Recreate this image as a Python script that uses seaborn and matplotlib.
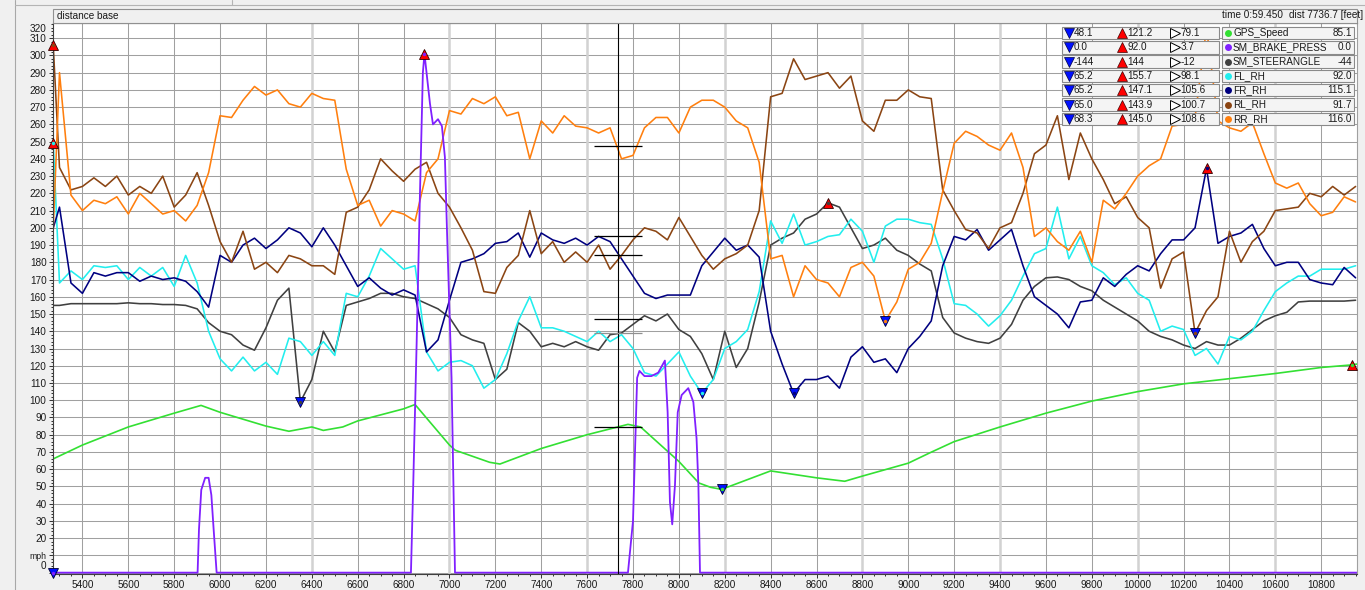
import numpy as np
import pandas as pd
import matplotlib
matplotlib.use("Agg")
import matplotlib.pyplot as plt
import seaborn as sns
from matplotlib import font_manager
from matplotlib.patches import Rectangle
from matplotlib.ticker import MultipleLocator

# ------------------------
# DATA (display units)
# ------------------------

# shared distance grid for the ride height / steering channels [feet]
dist = np.r_[5273, np.arange(5300, 10951, 50)]

steer = [
    155, 155, 156, 156, 156, 156, 156, 156.5, 156, 156,
    155.5, 155.5, 155, 153, 145, 140, 138, 132, 129, 142,
    158, 165, 99, 112, 140, 128, 155, 157, 159, 162,
    162, 160, 159, 156, 153, 148, 138, 135, 133, 112,
    118, 145, 140, 131, 133, 131, 134, 131, 129, 138,
    139, 144, 149, 146, 150, 141, 137, 127, 112, 140,
    119, 130, 157, 190, 194, 197, 205, 208, 214.5, 212,
    200, 188, 190, 194, 187, 184, 179, 175, 148, 139,
    136, 134, 133, 136, 144, 158, 166, 171, 171.5, 170,
    166, 163.5, 158, 154, 150, 146, 140, 137, 135, 132,
    130, 134, 132, 132, 136, 141, 146, 149, 151, 157,
    157.5, 157.5, 157.5, 157.5, 158,
]

fl_rh = [
    249, 168, 175, 170, 178, 177, 178, 170, 177, 172,
    177, 166, 184, 168, 140, 124, 117, 125, 117, 122,
    115, 136, 134, 126, 134, 126, 162, 160, 172, 188,
    182, 176, 178, 128, 117, 122, 123, 120, 107, 112,
    127, 146, 160, 142, 142, 140, 137, 134, 140, 134,
    138, 130, 116, 114, 121, 128, 114, 104, 112, 130,
    134, 141, 163, 204, 191, 208, 190, 192, 195, 196,
    205, 198, 180, 201, 205, 205, 203, 202, 182, 156,
    155, 150, 143, 149, 158, 172, 185, 188, 212, 182,
    195, 178, 174, 167, 171, 162, 158, 140, 143, 141,
    126, 130, 121, 137, 135, 140, 152, 163, 168, 172,
    172, 176, 176, 176, 178,
]

fr_rh = [
    200, 212, 168, 162, 174, 172, 174, 174, 169, 172,
    170, 171, 169, 163, 154, 184, 180, 190, 194, 188,
    193, 200, 197, 189, 200, 190, 178, 166, 171, 165,
    161, 164, 161, 128, 135, 158, 180, 182, 185, 191,
    192, 197, 183, 197, 193, 191, 194, 190, 195, 192,
    182, 172, 162, 159, 161, 161, 161, 178, 186, 194,
    187, 190, 183, 140, 121, 104, 112, 112, 114, 107,
    125, 131, 122, 124, 116, 130, 137, 146, 178, 195,
    193, 199, 187, 193, 199, 178, 160, 155, 150, 142,
    157, 158, 171, 166, 173, 178, 175, 185, 193, 193,
    200, 234.5, 191, 195, 197, 202, 188, 178, 180, 180,
    170, 168, 167, 177, 171,
]

rl_rh = [
    305, 235, 222, 224, 229, 224, 230, 219, 224, 220,
    230, 212, 219, 232, 213, 192, 180, 198, 176, 180,
    174, 184, 182, 178, 178, 173, 209, 212, 222, 240,
    233, 227, 234, 238, 220, 212, 200, 187, 163, 162,
    177, 184, 210, 185, 192, 180, 186, 180, 190, 176,
    184, 193, 200, 198, 193, 206, 195, 184, 176, 182,
    185, 190, 210, 276, 278, 298, 286, 288, 290, 281,
    288, 262, 256, 274, 274, 280, 276, 275, 222, 210,
    199, 197, 188, 200, 203, 220, 243, 248, 265, 228,
    255, 240, 228, 214, 218, 206, 200, 165, 182, 186,
    139, 152, 160, 198, 180, 192, 198, 210, 211, 212,
    220, 218, 224, 219, 224,
]

rr_rh = [
    200, 290, 219, 210, 216, 214, 218, 208, 220, 214,
    208, 210, 204, 213, 232, 265, 264, 274, 282, 277,
    280, 272, 270, 278, 275, 274, 234, 213, 216, 201,
    210, 208, 204, 232, 240, 268, 266, 275, 272, 276,
    265, 267, 240, 262, 255, 265, 259, 258, 255, 258,
    240, 242, 258, 264, 264, 255, 270, 274, 274, 270,
    262, 258, 238, 182, 184, 160, 178, 170, 168, 160,
    177, 180, 172, 146, 157, 176, 180, 191, 221, 249,
    256, 253, 248, 245, 255, 235, 195, 200, 192, 187,
    198, 180, 216, 211, 220, 230, 236, 240, 259, 260,
    264, 316, 262, 258, 256, 261, 243, 226, 223, 226,
    214, 207, 209, 218, 215,
]

speed_dist = [5273, 5400, 5600, 5800, 5917, 6000, 6200, 6300, 6400, 6450,
              6535, 6600, 6800, 6850, 7000, 7025, 7175, 7220, 7400, 7600,
              7778, 7833, 8000, 8087, 8138, 8186, 8400, 8600, 8723, 8800,
              9000, 9094, 9200, 9400, 9600, 9800, 10000, 10200, 10400, 10600,
              10800, 10934, 10956]
gps_speed = [66, 74, 84.5, 92.5, 97, 93, 85, 82, 84.5, 82.5,
             84.5, 88, 95, 97.5, 74, 71, 64, 63, 72, 80,
             86, 84.5, 64.5, 52, 49.5, 48.3, 59, 55, 53, 56,
             63.5, 69.5, 76, 84.5, 92.5, 99.5, 105, 109.5, 112.5, 115.5,
             119, 120.5, 121]

brake_dist = [5273, 5902, 5908, 5918, 5935, 5950, 5962, 5972, 5985,
              6832, 6842, 6857, 6871, 6884, 6891, 6900, 6915, 6928, 6950,
              6967, 6980, 6989, 7009, 7024,
              7778, 7800, 7818, 7828, 7850, 7880, 7910, 7939, 7951, 7961,
              7971, 7983, 7995, 8012, 8041, 8063, 8077, 8085, 8092,
              10956]
brake_press = [0, 0, 25, 48, 55, 55, 45, 25, 0,
               0, 51, 134, 218, 290, 301, 290, 272, 260, 263,
               259, 241, 199, 113, 0,
               0, 30, 113, 117, 114, 114, 116, 123, 93, 41,
               28, 51, 93, 103, 107, 99, 78, 51, 0,
               0]

# min / max flags drawn on the traces
min_channel = ["SM_BRAKE_PRESS", "SM_STEERANGLE", "FL_RH", "GPS_Speed", "FR_RH", "RR_RH", "RL_RH"]
min_dist = [5273, 6350, 8100, 8186, 8500, 8900, 10250]
min_value = [0, 99, 104, 48.3, 104, 146, 139]

max_channel = ["RL_RH", "FL_RH", "SM_BRAKE_PRESS", "SM_STEERANGLE", "FR_RH", "GPS_Speed"]
max_dist = [5273, 5273, 6891, 8650, 10300, 10934]
max_value = [306, 249, 301, 214.5, 234.5, 120.5]

cursor_dist = 7736.7
cursor_values = [247.3, 195.2, 184, 146.9, 139, 84.4]

# channel table (top right)
legend_names = ["GPS_Speed", "SM_BRAKE_PRESS", "SM_STEERANGLE", "FL_RH", "FR_RH", "RL_RH", "RR_RH"]
legend_min = ["48.1", "0.0", "-144", "65.2", "65.2", "65.0", "68.3"]
legend_max = ["121.2", "92.0", "144", "155.7", "147.1", "143.9", "145.0"]
legend_cursor = ["79.1", "3.7", "-12", "98.1", "105.6", "100.7", "108.6"]
legend_value = ["85.1", "0.0", "-44", "92.0", "115.1", "91.7", "116.0"]

colors = {
    "GPS_Speed": "#33e033",
    "SM_BRAKE_PRESS": "#8020ff",
    "SM_STEERANGLE": "#404040",
    "FL_RH": "#22eeee",
    "FR_RH": "#000080",
    "RL_RH": "#8b4513",
    "RR_RH": "#ff7f0e",
}

# ------------------------
# STYLE
# ------------------------

sns.set_theme(style="white")
installed = {f.name for f in font_manager.fontManager.ttflist}
narrow = "Liberation Sans Narrow" in installed
base_font = "Liberation Sans Narrow" if narrow else "Liberation Sans"
plt.rcParams["font.family"] = [base_font, "DejaVu Sans"]
fs = 7.6 if narrow else 7.2
txt_color = "#1a1a1a"

W, H = 1365, 590
fig = plt.figure(figsize=(W / 100, H / 100), dpi=100, facecolor="#f0f0f0")
ax = fig.add_axes([53.3 / W, 1 - 573.5 / H, (1357 - 53.3) / W, (573.5 - 23) / H])
ax.set_facecolor("white")

# ------------------------
# TRACES
# ------------------------

rh_order = ["SM_STEERANGLE", "FL_RH", "FR_RH", "RL_RH", "RR_RH"]
rh = pd.DataFrame({
    "dist": dist,
    "SM_STEERANGLE": steer,
    "FL_RH": fl_rh,
    "FR_RH": fr_rh,
    "RL_RH": rl_rh,
    "RR_RH": rr_rh,
})
rh_long = rh.melt(id_vars="dist", var_name="channel", value_name="value")

sns.lineplot(x=speed_dist, y=gps_speed, color=colors["GPS_Speed"], lw=1.2,
             estimator=None, sort=False, ax=ax)
sns.lineplot(data=rh_long, x="dist", y="value", hue="channel", hue_order=rh_order,
             palette={k: colors[k] for k in rh_order}, lw=1.15,
             estimator=None, sort=False, legend=False, ax=ax)
sns.lineplot(x=brake_dist, y=brake_press, color=colors["SM_BRAKE_PRESS"], lw=1.3,
             estimator=None, sort=False, ax=ax)

# cursor
ax.axvline(cursor_dist, color="black", lw=0.8, zorder=5)
cursor_cols = ["black", "black", "black", "black", "#909090", "black"]
ax.hlines(cursor_values, 7630, 7840, colors=cursor_cols, lw=0.9, zorder=5)

# min / max flags
for ch, d, v in zip(min_channel, min_dist, min_value):
    ax.plot(d, v, marker="v", ms=7.5, mfc="#0010ff", mec="#000030", mew=0.6,
            ls="none", clip_on=False, zorder=8)
    ax.plot(d, v, marker="o", ms=2.5, mfc=colors[ch], mec="none",
            ls="none", clip_on=False, zorder=9)
for ch, d, v in zip(max_channel, max_dist, max_value):
    ax.plot(d, v, marker="^", ms=7.5, mfc="#ff0000", mec="#300000", mew=0.6,
            ls="none", clip_on=False, zorder=8)
    ax.plot(d, v, marker="o", ms=2.5, mfc=colors[ch], mec="none",
            ls="none", clip_on=False, zorder=9)

# ------------------------
# AXES
# ------------------------

ax.set_xlim(5273, 10956)
ax.set_ylim(-0.5, 318.8)
ax.set_xlabel("")
ax.set_ylabel("")

ax.set_xticks(np.arange(5400, 10801, 200))
ax.xaxis.set_minor_locator(MultipleLocator(50))
yt = list(range(0, 320, 10))
ax.set_yticks(yt, ["" if t == 0 else "mph" if t == 10 else str(t) for t in yt])
ax.yaxis.set_minor_locator(MultipleLocator(2))

ax.tick_params(which="both", direction="out", color="#303030", width=0.7,
               labelsize=fs, labelcolor=txt_color, left=True, bottom=True)
ax.tick_params(which="major", length=3, pad=1.8)
ax.tick_params(which="minor", length=1.6)
for lab in ax.get_yticklabels():
    if lab.get_text() == "mph":
        lab.set_fontsize(fs - 1)

ax.set_axisbelow(True)
ax.grid(True, which="major", color="#a0a0a0", lw=0.75)
for d in range(6400, 10601, 600):
    ax.axvline(d, color="#d2d2d2", lw=1.8, zorder=0.6)

for side in ["left", "top", "bottom"]:
    ax.spines[side].set_color("#404040")
    ax.spines[side].set_linewidth(0.8)
ax.spines["right"].set_color("#a0a0a0")
ax.spines["right"].set_linewidth(0.8)

# ------------------------
# OVERLAY: header, channel table, loose labels (pixel coords)
# ------------------------

over = fig.add_axes([0, 0, 1, 1], zorder=5)
over.axis("off")
over.set_xlim(0, W)
over.set_ylim(H, 0)
over.autoscale(False)

over.plot([15, 15], [0, H], color="#a8a8a8", lw=0.8)
over.plot([15, W], [5, 5], color="#b4b4b4", lw=0.8)
over.plot([232, 232], [0, 5], color="#b4b4b4", lw=0.8)

over.add_patch(Rectangle((53.3, 8.5), 1303.7, 14.5, facecolor="#f0f0f0",
                         edgecolor="#909090", lw=0.8))
over.text(57, 15.8, "distance base", va="center", fontsize=fs, color=txt_color)
over.text(1222, 15.5, "time 0:59.450", va="center", fontsize=fs, color=txt_color)
over.text(1289, 15.5, "dist 7736.7 [feet]", va="center", fontsize=fs, color=txt_color)

over.text(46.7, 29.3, "320", ha="right", va="center", fontsize=fs, color=txt_color)
over.text(46.7, 566, "0", ha="right", va="center", fontsize=fs, color=txt_color)

for k, name in enumerate(legend_names):
    yc = 33.0 + 14.3 * k
    over.add_patch(Rectangle((1062, yc - 6.3), 157, 12.6, facecolor="#f4f4f4",
                             edgecolor="#8a8a8a", lw=0.8))
    over.add_patch(Rectangle((1222, yc - 6.3), 132, 12.6, facecolor="#f4f4f4",
                             edgecolor="#8a8a8a", lw=0.8))
    over.plot(1069, yc, marker="v", ms=7, mfc="#0010ff", mec="#000040", mew=0.5)
    over.text(1074, yc, legend_min[k], va="center", fontsize=fs, color=txt_color)
    over.plot(1122, yc, marker="^", ms=7, mfc="#ff0000", mec="#400000", mew=0.5)
    over.text(1127.5, yc, legend_max[k], va="center", fontsize=fs, color=txt_color)
    over.plot(1175, yc, marker=">", ms=7, mfc="white", mec="black", mew=0.7)
    over.text(1180.5, yc, legend_cursor[k], va="center", fontsize=fs, color=txt_color)
    over.plot(1228, yc, marker="o", ms=5, mfc=colors[name], mec="none")
    over.text(1233, yc, name, va="center", fontsize=fs, color=txt_color)
    over.text(1352, yc, legend_value[k], ha="right", va="center", fontsize=fs, color=txt_color)

fig.savefig("out.png", dpi=100, facecolor=fig.get_facecolor())
